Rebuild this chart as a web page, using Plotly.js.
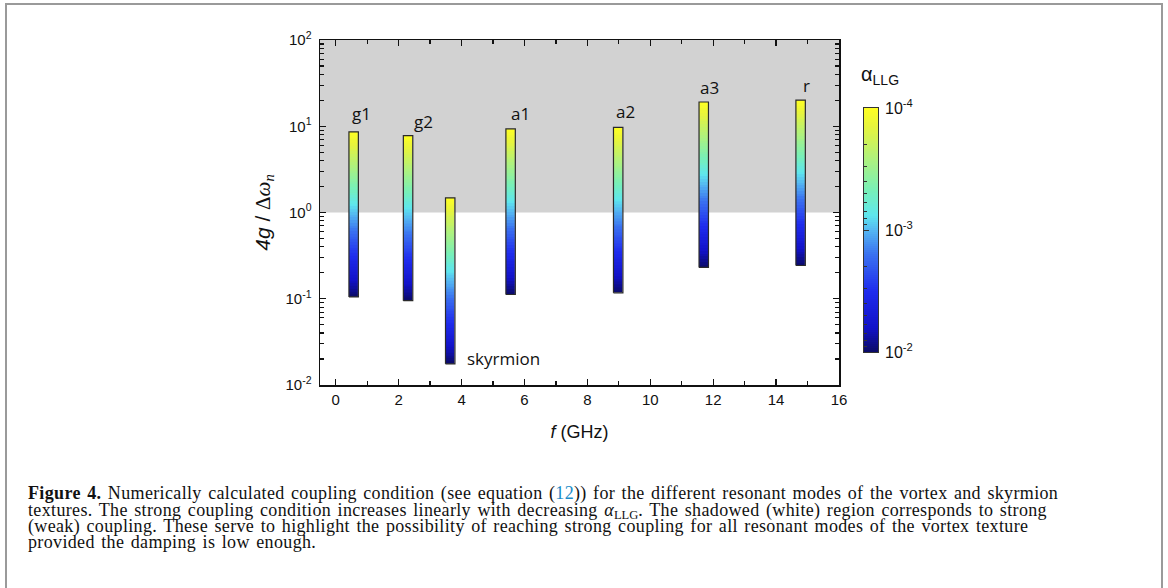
<!DOCTYPE html>
<html>
<head>
<meta charset="utf-8">
<script src="https://cdn.plot.ly/plotly-3.0.1.min.js"></script>
<style>
  html, body { margin: 0; padding: 0; background: #fff; }
  #wrap { position: relative; width: 1168px; height: 588px; overflow: hidden; background: #fff; }
  #frame { position: absolute; left: 5px; top: 3px; width: 1154px; height: 620px;
           border-top: 2px solid #9a9a9a; border-left: 2px solid #9a9a9a; border-right: 2px solid #9a9a9a; }
  #chart { position: absolute; left: 0; top: 0; width: 1168px; height: 588px; }
  .cap { position: absolute; left: 28px; white-space: nowrap; font-family: "Liberation Serif", serif;
         font-size: 18px; letter-spacing: 0.35px; word-spacing: 1.6px; color: #111; line-height: 16px; }
  .cap b { font-weight: bold; }
  .ref { color: #1a8cc8; }
  .sub { font-size: 12.5px; position: relative; top: 3px; letter-spacing: 0; }
</style>
</head>
<body>
<div id="wrap">
  <div id="frame"></div>
  <div id="chart"></div>
  <div class="cap" style="top:485px"><b>Figure 4.</b> Numerically calculated coupling condition (see equation (<span class="ref">12</span>)) for the different resonant modes of the vortex and skyrmion</div>
  <div class="cap" style="top:502px">textures. The strong coupling condition increases linearly with decreasing <i>α</i><span class="sub">LLG</span>. The shadowed (white) region corresponds to strong</div>
  <div class="cap" style="top:518px">(weak) coupling. These serve to highlight the possibility of reaching strong coupling for all resonant modes of the vortex texture</div>
  <div class="cap" style="top:534px">provided the damping is low enough.</div>
</div>
<script>
// ---- data ----
const modes = ['g1', 'g2', 'skyrmion', 'a1', 'a2', 'a3', 'r'];
const freqGHz = [0.57, 2.30, 3.64, 5.56, 8.98, 11.70, 14.78];
const ratioAtAlphaMin = [8.6, 7.8, 1.48, 9.3, 9.7, 19.1, 20.1];               // 4g/Δω at α = 1e-4 (top)
const ratioAtAlphaMax = [0.105, 0.095, 0.0176, 0.112, 0.117, 0.231, 0.243];   // 4g/Δω at α = 1e-2 (bottom)
const alphaLow = 1e-4;
const alphaHigh = 1e-2;

const xTickVals = [0, 2, 4, 6, 8, 10, 12, 14, 16];
const yTickVals = [0.01, 0.1, 1, 10, 100];
const yTickText = ['10<sup>-2</sup>', '10<sup>-1</sup>', '10<sup>0</sup>', '10<sup>1</sup>', '10<sup>2</sup>'];
const cbTickVals = [1e-2, 1e-3, 1e-4];
const cbTickText = ['10<sup>-2</sup>', '10<sup>-3</sup>', '10<sup>-4</sup>'];

// ---- styles ----
const barWidth = 0.3;
const nSteps = 60;
const labelXShift = [8, 15, 0, 10, 7, 6, 6];
const labelYShift = [18, 14, 0, 15, 16, 15, 15];

const colorscale = [
  [0.00, '#0a0a66'], [0.10, '#1212c8'], [0.25, '#1f2cee'], [0.40, '#3a72f0'],
  [0.50, '#55b8f2'], [0.56, '#5ee6ee'], [0.66, '#78f0b8'], [0.80, '#b2f27a'],
  [0.92, '#e6f43e'], [1.00, '#ffff22']
];

const zLo = -Math.log10(alphaHigh);  // 2
const zHi = -Math.log10(alphaLow);   // 4

const traces = [];
modes.forEach((m, i) => {
  const b = ratioAtAlphaMax[i], t = ratioAtAlphaMin[i];
  const yEdges = [], z = [];
  for (let k = 0; k <= nSteps; k++) yEdges.push(b * Math.pow(t / b, k / nSteps));
  for (let k = 0; k < nSteps; k++) z.push([zLo + (zHi - zLo) * (k + 0.5) / nSteps]);
  const x0 = freqGHz[i] - barWidth / 2, x1 = freqGHz[i] + barWidth / 2;
  traces.push({
    type: 'heatmap', x: [x0, x1], y: yEdges, z: z, coloraxis: 'coloraxis',
    zsmooth: false, hoverinfo: 'skip'
  });
  traces.push({
    type: 'scatter', mode: 'lines', x: [x0, x1, x1, x0, x0], y: [b, b, t, t, b],
    line: { color: '#2a2a2a', width: 1.2 }, hoverinfo: 'skip', showlegend: false
  });
});

// colour scale bar (drawn as its own small log axis of α)
{
  const yEdges = [], z = [];
  for (let k = 0; k <= nSteps * 2; k++) yEdges.push(alphaHigh * Math.pow(alphaLow / alphaHigh, k / (nSteps * 2)));
  for (let k = 0; k < nSteps * 2; k++) z.push([zLo + (zHi - zLo) * (k + 0.5) / (nSteps * 2)]);
  traces.push({
    type: 'heatmap', x: [0, 1], y: yEdges, z: z, coloraxis: 'coloraxis',
    zsmooth: false, hoverinfo: 'skip', xaxis: 'x2', yaxis: 'y2'
  });
}

const minorY = [];
for (let e = -2; e < 2; e++) for (let k = 2; k <= 9; k++) minorY.push(k * Math.pow(10, e));
const minorX = [];
for (let v = 1; v <= 15; v += 2) minorX.push(v);
const minorCb = [];
for (let e = -4; e < -2; e++) for (let k = 2; k <= 9; k++) minorCb.push(k * Math.pow(10, e));

// plot geometry (pixels in the 1168x588 page)
const L = 320, R = 900;
const W = R - L;
const plotRight = 839, cbLeft = 864, cbRight = 878;
const T = 40, B = 385, H = B - T;
const cbTop = 108, cbBottom = 352;

const annotations = [];
modes.forEach((m, i) => {
  if (m === 'skyrmion') {
    annotations.push({
      x: freqGHz[i], y: Math.log10(ratioAtAlphaMax[i]), xref: 'x', yref: 'y',
      text: m, showarrow: false, xanchor: 'left', yanchor: 'middle', xshift: 15, yshift: 5,
      font: { family: 'Open Sans', size: 17, color: '#111' }
    });
  } else {
    annotations.push({
      x: freqGHz[i], y: Math.log10(ratioAtAlphaMin[i]), xref: 'x', yref: 'y',
      text: m, showarrow: false, xanchor: 'center', yanchor: 'middle',
      xshift: labelXShift[i], yshift: labelYShift[i],
      font: { family: 'Open Sans', size: 17, color: '#111' }
    });
  }
});
annotations.push({
  x: (880 - L) / W, y: (B - 75) / H, xref: 'paper', yref: 'paper', showarrow: false,
  text: 'α<sub>LLG</sub>', xanchor: 'center', yanchor: 'middle',
  font: { family: 'Liberation Sans', size: 20, color: '#111' }
});

const axisFont = { family: 'Liberation Sans', size: 15, color: '#111' };

const layout = {
  width: 1168, height: 588,
  margin: { l: L, r: 1168 - R, t: T, b: 588 - B, pad: 0 },
  paper_bgcolor: 'rgba(0,0,0,0)', plot_bgcolor: 'rgba(0,0,0,0)',
  showlegend: false,
  font: { family: 'Liberation Sans', size: 15, color: '#111' },
  xaxis: {
    domain: [0, (plotRight - L) / W],
    range: [-0.5, 16], tickmode: 'array', tickvals: xTickVals,
    ticks: 'inside', ticklen: 6, tickwidth: 1.2, tickcolor: '#111',
    showline: true, linecolor: '#111', linewidth: 1.5, mirror: 'ticks',
    showgrid: false, zeroline: false,
    minor: { tickmode: 'array', tickvals: minorX, ticks: 'inside', ticklen: 4, tickwidth: 1.2, tickcolor: '#111' },
    tickfont: axisFont,
    title: { text: '<i>f</i> (GHz)', font: { family: 'Liberation Sans', size: 18, color: '#111' }, standoff: 19 }
  },
  yaxis: {
    type: 'log', range: [-2, 2], tickmode: 'array', tickvals: yTickVals, ticktext: yTickText,
    ticks: 'inside', ticklen: 6, tickwidth: 1.2, tickcolor: '#111',
    showline: true, linecolor: '#111', linewidth: 1.5, mirror: 'ticks',
    showgrid: false, zeroline: false, ticklabelstandoff: 4,
    minor: { tickmode: 'array', tickvals: minorY, ticks: 'inside', ticklen: 4, tickwidth: 1.2, tickcolor: '#111' },
    tickfont: axisFont,
    title: { text: '<i>4g</i> / <span style="font-family:Liberation Serif">Δ<i>ω</i><sub><i>n</i></sub></span>',
             font: { family: 'Liberation Sans', size: 21, color: '#111' }, standoff: 9 }
  },
  xaxis2: {
    domain: [(cbLeft - L) / W, (cbRight - L) / W], anchor: 'y2', range: [0, 1],
    showticklabels: false, ticks: '', showgrid: false, zeroline: false,
    showline: true, linecolor: '#333', linewidth: 1, mirror: true
  },
  yaxis2: {
    domain: [(B - cbBottom) / H, (B - cbTop) / H], anchor: 'x2', type: 'log', range: [-2, -4],
    side: 'left', showticklabels: false, tickmode: 'array', tickvals: cbTickVals,
    ticks: 'inside', ticklen: 5, tickwidth: 1, tickcolor: '#333',
    minor: { tickmode: 'array', tickvals: minorCb, ticks: 'inside', ticklen: 3, tickwidth: 1, tickcolor: '#333' },
    showgrid: false, zeroline: false, showline: true, linecolor: '#333', linewidth: 1, mirror: true
  },
  yaxis3: {
    overlaying: 'y2', anchor: 'x2', side: 'right', type: 'log', range: [-2, -4],
    tickmode: 'array', tickvals: cbTickVals, ticktext: cbTickText, ticks: '',
    showgrid: false, zeroline: false, showline: false, ticklabelstandoff: 6,
    tickfont: { family: 'Liberation Sans', size: 16, color: '#111' }
  },
  shapes: [{
    type: 'rect', xref: 'x', x0: -0.5, x1: 16, yref: 'y', y0: 1, y1: 100,
    fillcolor: '#d2d2d2', line: { width: 0 }, layer: 'below'
  }],
  coloraxis: { cmin: zLo, cmax: zHi, colorscale: colorscale, showscale: false },
  annotations: annotations
};

// invisible trace so the label axis (y3) is drawn
traces.push({ type: 'scatter', mode: 'markers', x: [0.5], y: [1e-3], xaxis: 'x2', yaxis: 'y3',
              marker: { opacity: 0 }, hoverinfo: 'skip', showlegend: false });

Plotly.newPlot('chart', traces, layout, { displayModeBar: false, staticPlot: true });
</script>
</body>
</html>
